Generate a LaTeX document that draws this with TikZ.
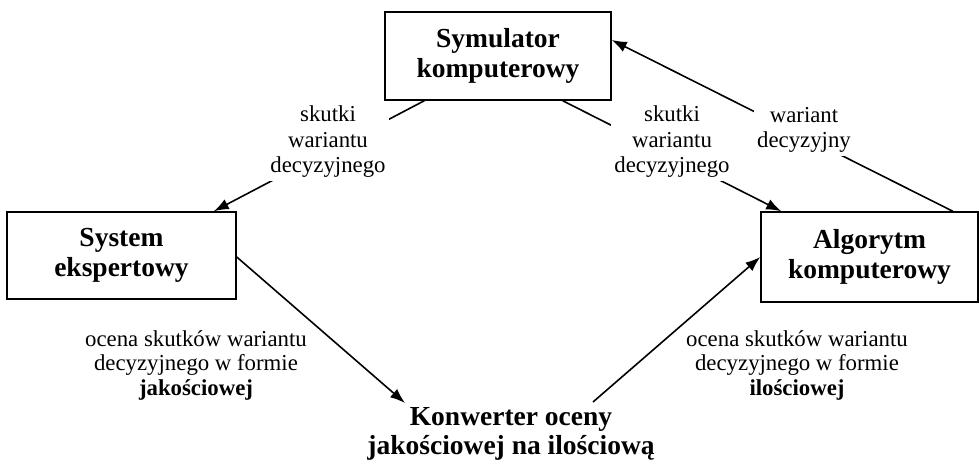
\documentclass[tikz,border=0pt]{standalone}
\usepackage{fontspec}
\setmainfont{Liberation Serif}
\usetikzlibrary{arrows.meta}
\begin{document}
\begin{tikzpicture}[x=1pt,y=-1pt,
  blockbox/.style={draw, line width=1.5pt, align=center, inner sep=0pt,
    font=\fontsize{27.5}{29.5}\selectfont\bfseries},
  convtext/.style={align=center, inner sep=0pt,
    font=\fontsize{27.5}{29}\selectfont\bfseries},
  edgelabel/.style={align=center, inner sep=3pt, fill=white,
    font=\fontsize{22.8}{25.5}\selectfont},
  sidelabel/.style={align=center, inner sep=0pt,
    font=\fontsize{22.8}{24.5}\selectfont},
  conn/.style={line width=1.6pt, -{Latex[length=15pt,width=11pt]}}]
  % canvas
  \useasboundingbox (0,0) rectangle (979,465);

  % blocks
  \node[blockbox, minimum width=226pt, minimum height=88pt] (sym) at (498,56) {Symulator\\komputerowy};
  \node[blockbox, minimum width=229pt, minimum height=87pt] (exp) at (121.5,255.5) {System\\ekspertowy};
  \node[blockbox, minimum width=217pt, minimum height=90pt] (alg) at (869.5,257) {Algorytm\\komputerowy};
  \node[convtext] (conv) at (511,434) {Konwerter oceny\\jakościowej na ilościową};

  % connectors
  \draw[conn] ([xshift=40pt]sym.south west) -- ([xshift=-23pt]exp.north east);
  \draw[conn] ([xshift=-49pt]sym.south east) -- ([xshift=21pt]alg.north west);
  \draw[conn] ([xshift=-26pt]alg.north east) -- ([yshift=16pt]sym.east);
  \draw[conn] ([yshift=-1.5pt]exp.east) -- ([xshift=-106pt,yshift=31pt]conv.center);
  \draw[conn] ([xshift=82pt,yshift=32pt]conv.center) -- (alg.west);

  % labels on the connectors
  \node[edgelabel] (lsl) at (328,142) {skutki\\wariantu\\decyzyjnego};
  \node[edgelabel] (lsr) at (672,142) {skutki\\wariantu\\decyzyjnego};
  \node[edgelabel] (lwd) at (804,130) {wariant\\decyzyjny};

  % assessment descriptions
  \node[sidelabel] (ojak) at (196,365) {ocena skutków wariantu\\decyzyjnego w formie\\\textbf{jakościowej}};
  \node[sidelabel] (oil) at (797,365) {ocena skutków wariantu\\decyzyjnego w formie\\\textbf{ilościowej}};
\end{tikzpicture}
\end{document}
